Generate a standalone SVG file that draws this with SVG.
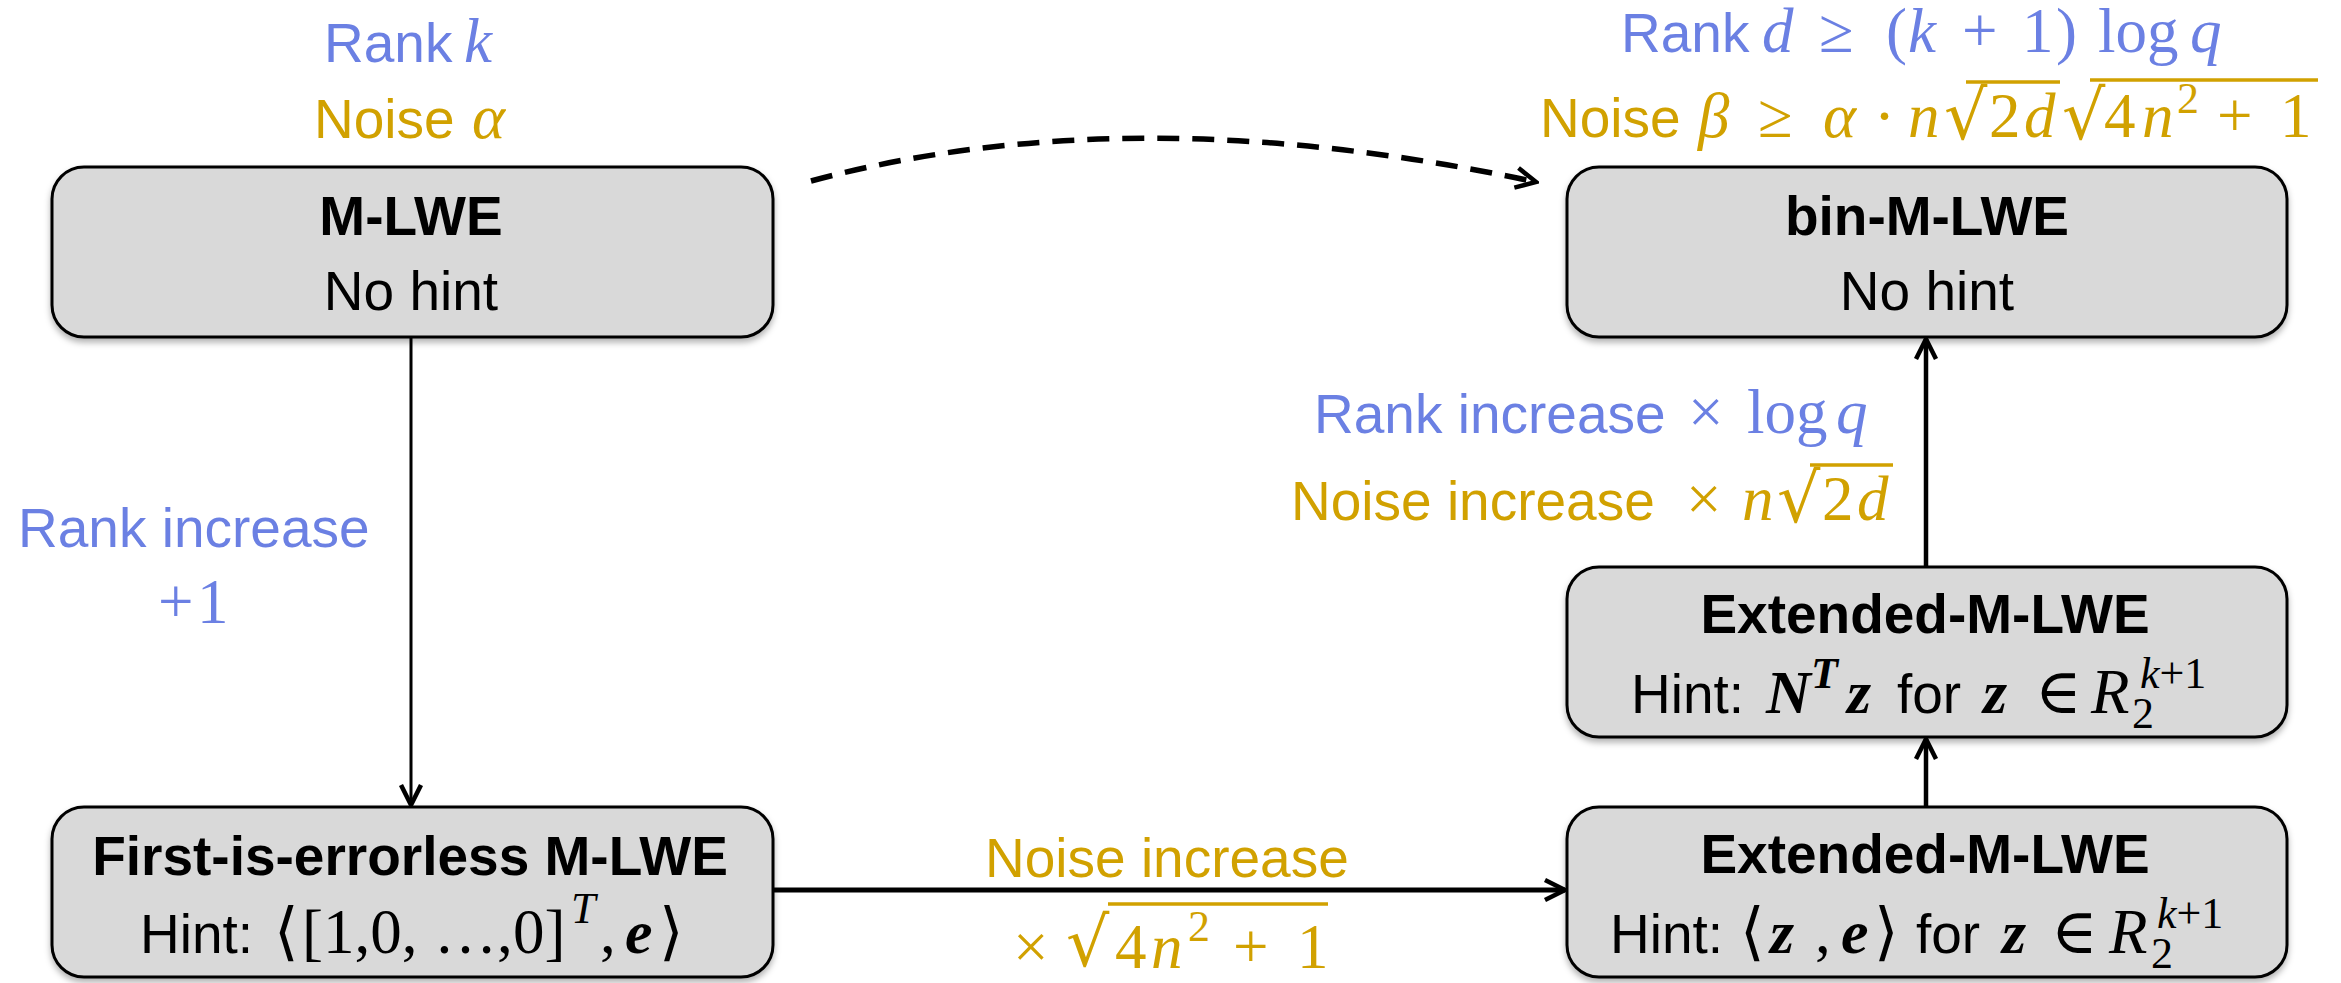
<svg xmlns="http://www.w3.org/2000/svg" width="2341" height="983" viewBox="0 0 2341 983">
<defs>
<style>
.s{font-family:"Liberation Sans",Arial,sans-serif;font-size:55px}
.bd{font-weight:bold}
.mi{font-family:"Liberation Serif","DejaVu Serif",serif;font-style:italic;font-size:63px}
.mu{font-family:"Liberation Serif","DejaVu Serif",serif;font-size:63px}
.mb{font-family:"Liberation Serif","DejaVu Serif",serif;font-style:italic;font-weight:bold;font-size:62px}
.sup{font-size:44px}
.rad{font-family:"DejaVu Serif",serif;font-size:68px}
.blue{fill:#6B80E3}
.gold{fill:#D1A100}
.blk{fill:#000}
.mid{text-anchor:middle}
.box{fill:#D9D9D9;stroke:#000;stroke-width:3;filter:url(#sh)}
.vin{stroke-width:3.5}
.vg{stroke:#D1A100}
.con{fill:none;stroke:#000}
</style>
<filter id="sh" x="-5%" y="-10%" width="110%" height="130%">
<feDropShadow dx="0" dy="4" stdDeviation="3" flood-color="#000" flood-opacity="0.3"/>
</filter>
<marker id="arr" viewBox="0 0 26 26" refX="23" refY="13" markerWidth="26" markerHeight="26" markerUnits="userSpaceOnUse" orient="auto">
<path d="M3,3 L23,13 L3,23" fill="none" stroke="#000" stroke-width="4.5" stroke-dasharray="none"/>
</marker>
</defs>
<rect width="2341" height="983" fill="#fff"/>

<g id="connectors">
<line class="con" style="stroke-width:3" x1="411" y1="338" x2="411" y2="805" marker-end="url(#arr)"/>
<line class="con" style="stroke-width:5" x1="773" y1="890" x2="1565" y2="890" marker-end="url(#arr)"/>
<line class="con" style="stroke-width:4.5" x1="1926" y1="807" x2="1926" y2="739" marker-end="url(#arr)"/>
<line class="con" style="stroke-width:4.5" x1="1926" y1="567" x2="1926" y2="339" marker-end="url(#arr)"/>
<path class="con" style="stroke-width:5.5;stroke-dasharray:22 13" d="M811,181 Q1130,95 1536,182" marker-end="url(#arr)"/>
</g>

<g id="label-mlwe">
<text class="s blue" y="62"><tspan x="324">Rank</tspan><tspan class="mi" x="464">k</tspan></text>
<text class="s gold" y="138"><tspan x="314">Noise</tspan><tspan class="mi" x="472">α</tspan></text>
</g>

<g id="label-bin">
<text class="s blue" y="52"><tspan x="1621">Rank</tspan><tspan class="mi" x="1762">d</tspan><tspan class="mu" x="1819">≥</tspan><tspan class="mu" x="1886">(</tspan><tspan class="mi" x="1908">k</tspan><tspan class="mu" x="1962">+</tspan><tspan class="mu" x="2022">1</tspan><tspan class="mu" x="2056">)</tspan><tspan class="mu" x="2098">log</tspan><tspan class="mi" x="2190">q</tspan></text>
<text class="s gold" y="137"><tspan x="1540">Noise</tspan><tspan class="mi" x="1698">β</tspan><tspan class="mu" x="1758">≥</tspan><tspan class="mi" x="1823">α</tspan><tspan class="mu" x="1874">·</tspan><tspan class="mi" x="1908">n</tspan><tspan class="mu" x="1989">2</tspan><tspan class="mi" x="2024">d</tspan><tspan class="mu" x="2104">4</tspan><tspan class="mi" x="2142">n</tspan><tspan class="mu sup" x="2177" dy="-24">2</tspan><tspan class="mu" x="2217" dy="24">+</tspan><tspan class="mu" x="2280">1</tspan></text>
<text class="rad gold" x="1944" y="139">√</text>
<line class="vin vg" x1="1966" y1="82" x2="2060" y2="82"/>
<text class="rad gold" x="2062" y="139">√</text>
<line class="vin vg" x1="2090" y1="80" x2="2318" y2="80"/>
</g>

<g id="label-rank-increase">
<text class="s blue" y="547"><tspan x="18">Rank increase</tspan></text>
<text class="s blue" y="623"><tspan class="mu" x="158">+</tspan><tspan class="mu" x="197">1</tspan></text>
</g>

<g id="label-logq">
<text class="s blue" y="433"><tspan x="1314">Rank increase</tspan><tspan class="mu" x="1688">×</tspan><tspan class="mu" x="1747">log</tspan><tspan class="mi" x="1836">q</tspan></text>
<text class="s gold" y="520"><tspan x="1291">Noise increase</tspan><tspan class="mu" x="1686">×</tspan><tspan class="mi" x="1742">n</tspan><tspan class="mu" x="1822">2</tspan><tspan class="mi" x="1857">d</tspan></text>
<text class="rad gold" x="1777" y="522">√</text>
<line class="vin vg" x1="1810" y1="465" x2="1893" y2="465"/>
</g>

<g id="label-noise-increase">
<text class="s gold" y="877" x="985">Noise increase</text>
<text class="s gold" y="968"><tspan class="mu" x="1013">×</tspan><tspan class="mu" x="1115">4</tspan><tspan class="mi" x="1151">n</tspan><tspan class="mu sup" x="1188" dy="-27">2</tspan><tspan class="mu" x="1233" dy="27">+</tspan><tspan class="mu" x="1297">1</tspan></text>
<text class="rad gold" x="1066" y="966">√</text>
<line class="vin vg" x1="1108" y1="904" x2="1328" y2="904"/>
</g>

<g id="node-mlwe">
<rect class="box" x="52" y="167" width="721" height="170" rx="32"/>
<text class="s bd blk mid" x="411" y="235">M-LWE</text>
<text class="s blk mid" x="411" y="310">No hint</text>
</g>

<g id="node-bin-mlwe">
<rect class="box" x="1567" y="167" width="720" height="170" rx="32"/>
<text class="s bd blk mid" x="1927" y="235">bin-M-LWE</text>
<text class="s blk mid" x="1927" y="310">No hint</text>
</g>

<g id="node-ext-nt">
<rect class="box" x="1567" y="567" width="720" height="170" rx="32"/>
<text class="s bd blk mid" x="1925" y="633">Extended-M-LWE</text>
<text class="s blk" y="713"><tspan x="1631">Hint:</tspan><tspan class="mb" x="1766">N</tspan><tspan class="mb sup" x="1811" dy="-25">T</tspan><tspan class="mb" x="1847" dy="25">z</tspan><tspan x="1897">for</tspan><tspan class="mb" x="1983">z</tspan><tspan class="mu" x="2035">∈</tspan><tspan class="mi" x="2091">R</tspan><tspan class="mu sup" x="2132" dy="15">2</tspan><tspan class="mi sup" x="2140" dy="-40">k</tspan><tspan class="mu sup">+1</tspan></text>
</g>

<g id="node-ext-ze">
<rect class="box" x="1567" y="807" width="720" height="170" rx="32"/>
<text class="s bd blk mid" x="1925" y="873">Extended-M-LWE</text>
<text class="s blk" y="953"><tspan x="1610">Hint:</tspan><tspan class="mu" x="1740">⟨</tspan><tspan class="mb" x="1770">z</tspan><tspan class="mu" x="1815">,</tspan><tspan class="mb" x="1841">e</tspan><tspan class="mu" x="1874">⟩</tspan><tspan x="1916">for</tspan><tspan class="mb" x="2002">z</tspan><tspan class="mu" x="2051">∈</tspan><tspan class="mi" x="2109">R</tspan><tspan class="mu sup" x="2151" dy="15">2</tspan><tspan class="mi sup" x="2157" dy="-40">k</tspan><tspan class="mu sup">+1</tspan></text>
</g>

<g id="node-first">
<rect class="box" x="52" y="807" width="721" height="170" rx="32"/>
<text class="s bd blk mid" x="410" y="875">First-is-errorless M-LWE</text>
<text class="s blk" y="953"><tspan x="140">Hint:</tspan><tspan class="mu" x="274">⟨</tspan><tspan class="mu" x="302">[1,0,</tspan><tspan class="mu" x="434">…,</tspan><tspan class="mu" x="513">0]</tspan><tspan class="mi sup" x="571" dy="-30">T</tspan><tspan class="mu" x="600" dy="30">,</tspan><tspan class="mb" x="625">e</tspan><tspan class="mu" x="659">⟩</tspan></text>
</g>
</svg>
